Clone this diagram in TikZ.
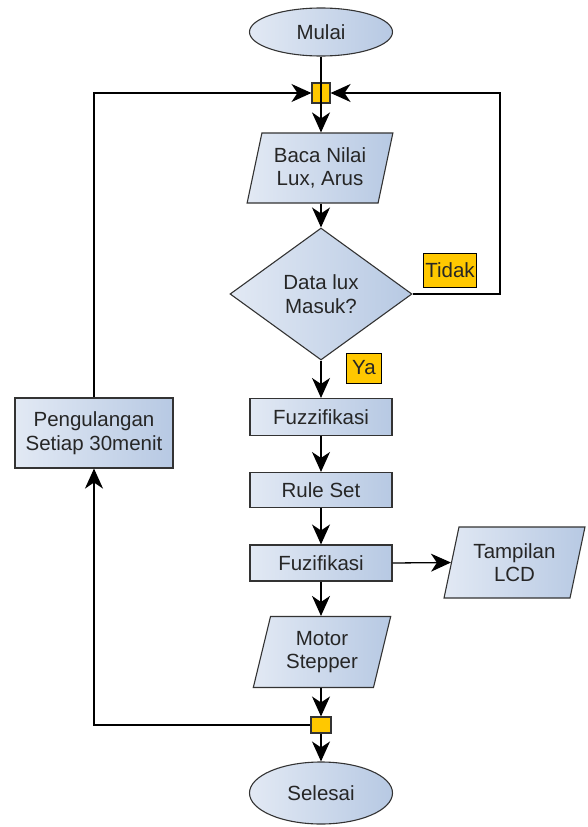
\documentclass[tikz,border=0pt]{standalone}
\usepackage{fontspec}
\setmainfont{Liberation Sans}
\usetikzlibrary{shapes.geometric,arrows.meta}
\definecolor{fillL}{HTML}{E2E9F4}
\definecolor{fillR}{HTML}{B7C9E3}
\definecolor{edge}{HTML}{333333}
\definecolor{txt}{HTML}{262626}
\definecolor{junc}{HTML}{FFC800}
\tikzset{
  base/.style={draw=edge, line width=1.1pt, left color=fillL, right color=fillR,
    text=txt, font=\fontsize{20.5}{23.5}\selectfont, align=center, inner sep=0pt},
  procbox/.style={base, rectangle, minimum width=142pt, minimum height=36pt},
  termbox/.style={base, ellipse, minimum width=143pt, minimum height=48pt},
  iobox/.style={base, trapezium, trapezium left angle=74, trapezium right angle=106,
    trapezium stretches=true, minimum width=146pt, minimum height=70pt},
  decbox/.style={base, diamond, minimum width=182pt, minimum height=132pt},
  junction/.style={draw=edge, line width=1.1pt, fill=junc, inner sep=0pt},
  tag/.style={draw=black, line width=1pt, fill=junc, text=txt, inner sep=0pt,
    font=\fontsize{20.5}{23.5}\selectfont},
  flow/.style={line width=1.3pt, black, arrows={-Stealth[length=20pt,width=18pt,inset=6pt]}},
  plain/.style={line width=1.1pt, black}
}
\begin{document}
\begin{tikzpicture}[x=1pt,y=-1pt]
\useasboundingbox (0,0) rectangle (587,827);
\node[termbox] (mulai) at (321,32) {Mulai};
\node[junction, minimum width=18pt, minimum height=20pt] (j1) at (321,93) {};
\node[iobox] (baca) at (320,168) {Baca Nilai\\Lux, Arus};
\node[decbox] (dec) at (321,294) {Data lux\\Masuk?};
\node[tag, minimum width=53pt, minimum height=34pt] (tidak) at (450,270) {Tidak};
\node[tag, minimum width=35pt, minimum height=30pt] (ya) at (364,368) {Ya};
\node[procbox, minimum height=37pt] (fuzz) at (321,417) {Fuzzifikasi};
\node[procbox, minimum height=35pt] (rule) at (321,490) {Rule Set};
\node[procbox] (fuzi) at (321,563) {Fuzifikasi};
\node[iobox, minimum width=141pt, minimum height=71pt] (lcd) at (514.5,562.5) {Tampilan\\LCD};
\node[iobox, minimum width=138pt, minimum height=71pt] (motor) at (322,652) {Motor\\Stepper};
\node[junction, minimum width=20pt, minimum height=16pt] (j2) at (321,725) {};
\node[termbox, minimum height=62pt] (selesai) at (321,793) {Selesai};
\node[procbox, minimum width=158pt, minimum height=70pt] (peng) at (94,433) {Pengulangan\\Setiap 30menit};
\coordinate (rc) at (500,294);
\coordinate (rt) at (500,93);
\coordinate (lb) at (94,725);
\coordinate (lt) at (94,93);
\draw[plain] (mulai.south) -- (j1.south);
\draw[flow] (j1.south) -- (j1.south |- baca.north);
\draw[flow] (j1.south |- baca.south) -- (dec.north);
\draw[flow] (dec.east) -- (rc) -- (rt) -- (j1.east);
\draw[flow] (dec.south) -- (fuzz.north);
\draw[flow] (fuzz) -- (rule);
\draw[flow] (rule) -- (fuzi);
\draw[flow] (fuzi.east) -- (lcd.west);
\draw[flow] (fuzi.south) -- (fuzi.south |- motor.north);
\draw[flow] (j2.north |- motor.south) -- (j2.north);
\draw[flow] (j2.south) -- (selesai.north);
\draw[flow] (j2.west) -- (lb) -- (peng.south);
\draw[flow] (peng.north) -- (lt) -- (j1.west);
\end{tikzpicture}
\end{document}
